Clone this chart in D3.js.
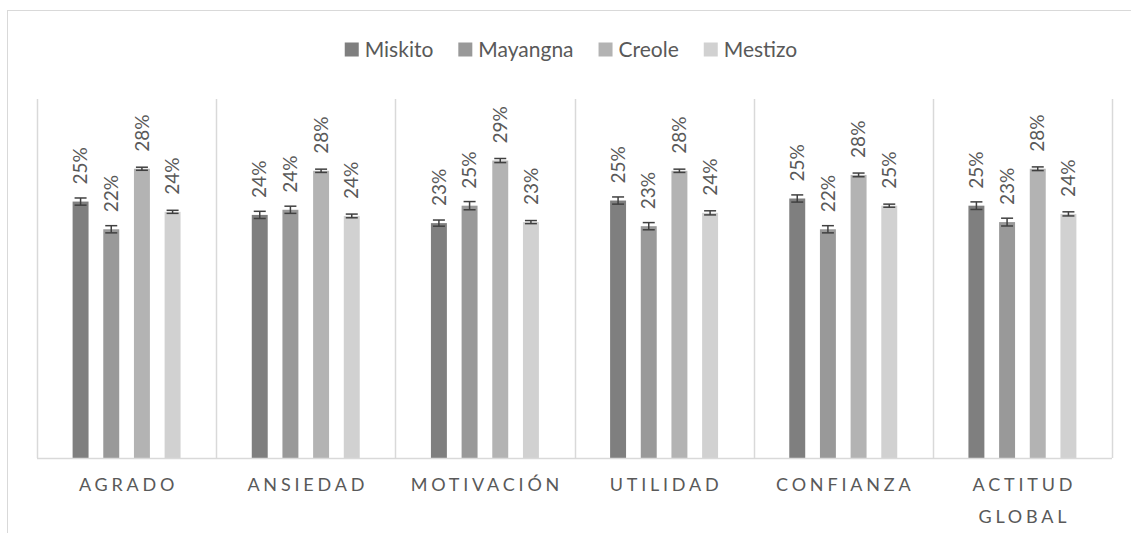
<!DOCTYPE html>
<html>
<head>
<meta charset="utf-8">
<script src="https://cdn.jsdelivr.net/npm/d3@7"></script>
<style>
  body { margin: 0; background: #fff; }
  text { font-family: Lato, "Open Sans", sans-serif; fill: #595959; }
</style>
</head>
<body>
<div id="chart"></div>
<script>
// categories + series
const CATEGORIES = [["AGRADO"], ["ANSIEDAD"], ["MOTIVACIÓN"], ["UTILIDAD"], ["CONFIANZA"], ["ACTITUD", "GLOBAL"]];
const SERIES = ["Miskito", "Mayangna", "Creole", "Mestizo"];

// values in %
const MISKITO = [25.0, 23.7, 22.9, 25.1, 25.3, 24.6];
const MAYANGNA = [22.3, 24.2, 24.6, 22.6, 22.3, 23.0];
const CREOLE = [28.2, 28.0, 29.0, 28.0, 27.6, 28.2];
const MESTIZO = [24.0, 23.6, 23.0, 23.9, 24.6, 23.8];

// error bar half sizes in %
const MISKITO_ERR = [0.35, 0.35, 0.3, 0.35, 0.35, 0.37];
const MAYANGNA_ERR = [0.35, 0.35, 0.4, 0.35, 0.35, 0.38];
const CREOLE_ERR = [0.15, 0.16, 0.2, 0.16, 0.18, 0.18];
const MESTIZO_ERR = [0.15, 0.18, 0.15, 0.2, 0.15, 0.2];

const COLORS = ["#7f7f7f", "#999999", "#b3b3b3", "#d1d1d1"];

const FRAME_WIDTH = 1131;
const FRAME_HEIGHT = 533;
const PLOT = {left: 37, right: 1112, top: 99, bottom: 458};

const VALUES = [MISKITO, MAYANGNA, CREOLE, MESTIZO];
const ERRS = [MISKITO_ERR, MAYANGNA_ERR, CREOLE_ERR, MESTIZO_ERR];

const SVG = d3.select("#chart")
  .append("svg")
    .attr("width", FRAME_WIDTH)
    .attr("height", FRAME_HEIGHT);

// chart area border (runs off the picture to the right / bottom)
SVG.append("rect")
  .attr("x", 7.5).attr("y", 10.5)
  .attr("width", 1300).attr("height", 700)
  .attr("fill", "none")
  .attr("stroke", "#d9d9d9");

const X0 = d3.scaleBand()
  .domain(d3.range(CATEGORIES.length))
  .range([PLOT.left, PLOT.right]);

const PAD = 35.6;
const X1 = d3.scaleBand()
  .domain(d3.range(SERIES.length))
  .range([PAD, X0.bandwidth() - PAD])
  .paddingInner(0.48);

const Y = d3.scaleLinear()
  .domain([0, 35])
  .range([PLOT.bottom, PLOT.top]);

// vertical separators between categories
SVG.append("g")
  .selectAll("line")
  .data(d3.range(CATEGORIES.length + 1))
  .enter().append("line")
    .attr("x1", (d) => Math.round(PLOT.left + d * X0.step()) + 0.5)
    .attr("x2", (d) => Math.round(PLOT.left + d * X0.step()) + 0.5)
    .attr("y1", PLOT.top)
    .attr("y2", PLOT.bottom)
    .attr("stroke", "#d9d9d9")
    .attr("stroke-width", 1.5);

// bars
const rows = [];
CATEGORIES.forEach((c, i) => {
  SERIES.forEach((s, j) => {
    rows.push({cat: i, ser: j, v: VALUES[j][i], e: ERRS[j][i]});
  });
});

const groups = SVG.append("g")
  .selectAll("g")
  .data(rows)
  .enter().append("g")
    .attr("transform", (d) => "translate(" + (X0(d.cat) + X1(d.ser)) + ",0)");

groups.append("rect")
  .attr("x", 0)
  .attr("width", X1.bandwidth())
  .attr("y", (d) => Y(d.v))
  .attr("height", (d) => Y(0) - Y(d.v))
  .attr("fill", (d) => COLORS[d.ser]);

// error bars
const bw = X1.bandwidth();
groups.append("line")
  .attr("x1", bw / 2).attr("x2", bw / 2)
  .attr("y1", (d) => Y(d.v + d.e)).attr("y2", (d) => Y(d.v - d.e))
  .attr("stroke", "#404040").attr("stroke-width", 1.5);
groups.append("line")
  .attr("x1", bw / 2 - 6).attr("x2", bw / 2 + 6)
  .attr("y1", (d) => Y(d.v + d.e)).attr("y2", (d) => Y(d.v + d.e))
  .attr("stroke", "#404040").attr("stroke-width", 1.5);
groups.append("line")
  .attr("x1", bw / 2 - 6).attr("x2", bw / 2 + 6)
  .attr("y1", (d) => Y(d.v - d.e)).attr("y2", (d) => Y(d.v - d.e))
  .attr("stroke", "#404040").attr("stroke-width", 1.5);

// value labels
groups.append("text")
  .attr("transform", (d) => "translate(" + (bw / 2) + "," + (Y(d.v) - 17) + ") rotate(-90)")
  .attr("dy", "0.35em")
  .attr("font-size", "19px")
  .text((d) => Math.round(d.v) + "%");

// baseline
SVG.append("line")
  .attr("x1", PLOT.left).attr("x2", PLOT.right)
  .attr("y1", PLOT.bottom + 0.5).attr("y2", PLOT.bottom + 0.5)
  .attr("stroke", "#d9d9d9")
  .attr("stroke-width", 1.5);

// category labels
const catText = SVG.append("g")
  .selectAll("text")
  .data(CATEGORIES)
  .enter().append("text")
    .attr("x", (d, i) => X0(i) + X0.bandwidth() / 2 + 2)
    .attr("y", 491)
    .attr("text-anchor", "middle")
    .attr("font-size", "18px")
    .attr("letter-spacing", "3.8px");

catText.selectAll("tspan")
  .data((d) => d)
  .enter().append("tspan")
    .attr("x", function () { return d3.select(this.parentNode).attr("x"); })
    .attr("dy", (d, k) => k === 0 ? 0 : 32)
    .text((d) => d);

// legend
const legend = SVG.append("g");
const items = legend.selectAll("g")
  .data(SERIES)
  .enter().append("g");
items.append("rect")
  .attr("y", 42.5).attr("width", 14).attr("height", 14)
  .attr("fill", (d, i) => COLORS[i]);
items.append("text")
  .attr("x", 20).attr("y", 49.5)
  .attr("dy", "0.35em")
  .attr("font-size", "21px")
  .text((d) => d);

let pos = 0;
const offs = [];
items.each(function () {
  offs.push(pos);
  const w = d3.select(this).select("text").node().getComputedTextLength();
  pos += 20 + w + 25;
});
const total = pos - 25;
const start = 571 - total / 2;
items.attr("transform", (d, i) => "translate(" + (start + offs[i]) + ",0)");
</script>
</body>
</html>
